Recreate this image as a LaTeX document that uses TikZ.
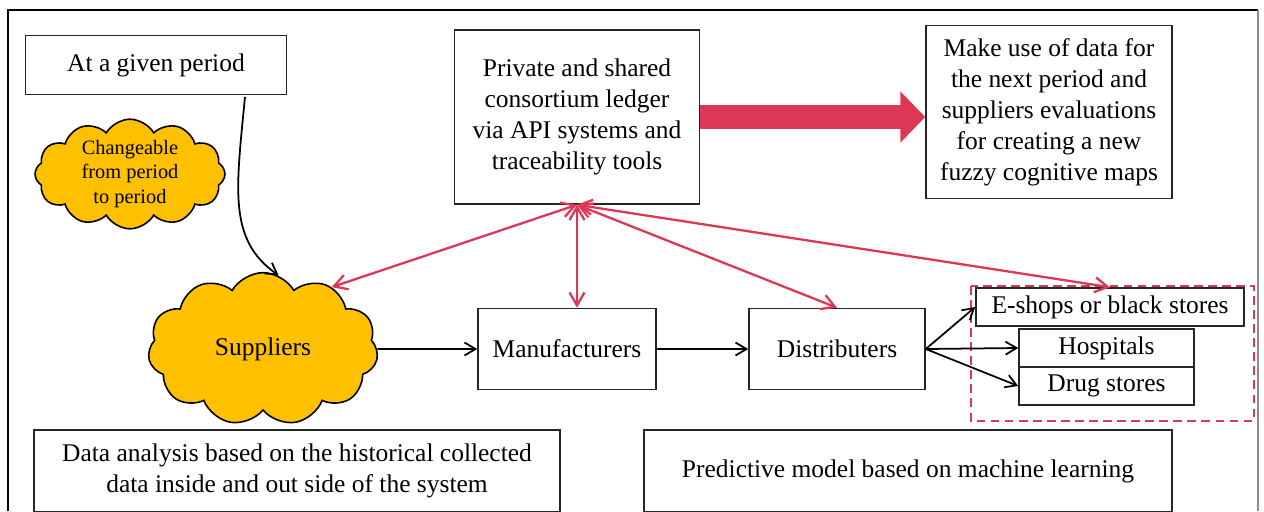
\documentclass[tikz,border=0pt]{standalone}
\usepackage{fontspec}
\setmainfont{Liberation Serif}
\usetikzlibrary{shapes.symbols,arrows.meta}

\definecolor{ledgerred}{RGB}{220,55,85}
\definecolor{cloudgold}{RGB}{255,192,0}

\tikzset{
  box/.style={draw=black!85, line width=0.9pt, align=center, inner sep=0pt, font=\fontsize{14.5}{17.6}\selectfont},
  puff/.style={cloud, cloud puffs=11, cloud puff arc=120, draw, line width=0.9pt, fill=cloudgold, align=center, inner sep=0pt},
  flow/.style={-{Straight Barb[length=2.2mm,width=2.6mm]}, line width=1pt},
  link/.style={{Straight Barb[length=2.6mm,width=3mm]}-{Straight Barb[length=2.6mm,width=3mm]}, draw=ledgerred, line width=1.3pt},
}

\begin{document}
\begin{tikzpicture}[x=0.02cm,y=-0.02cm]
            \useasboundingbox (0,0) rectangle (1264,511);
            % frame
            \draw[line width=1.4pt] (8,511) -- (8,10) -- (1258,10);
            \draw[black!45, line width=0.6pt] (1258,10) -- (1258,511);

            % top row
            \node (given) at (156,65) [box, minimum width=5.22cm, minimum height=1.18cm] {At a given period};
            \node (change) at (130,174) [puff, cloud puffs=12, aspect=1.45, inner sep=-0.5pt, minimum width=3.8cm, minimum height=1.6cm, font=\fontsize{11.6}{13.8}\selectfont] {Changeable\\from period\\to period};
            \node (ledger) at (577,117) [box, minimum width=4.9cm, minimum height=3.48cm] {Private and shared\\consortium ledger\\via API systems and\\traceability tools};
            \node (reuse) at (1049,112) [box, minimum width=4.92cm, minimum height=3.46cm] {Make use of data for\\the next period and\\suppliers evaluations\\for creating a new\\fuzzy cognitive maps};

            % supply chain
            \node (supp) at (263,349) [puff, minimum width=4.6cm, minimum height=2.95cm, font=\fontsize{14.5}{17.6}\selectfont] {Suppliers};
            \node (manu) at (567,349) [box, minimum width=3.56cm, minimum height=1.62cm] {Manufacturers};
            \node (dist) at (837,349) [box, minimum width=3.52cm, minimum height=1.62cm] {Distributers};
            \node (eshop) at (1110,307) [box, minimum width=5.36cm, minimum height=0.76cm] {E-shops or black stores};
            \node (hosp) at (1106.5,348) [box, minimum width=3.5cm, minimum height=0.76cm] {Hospitals};
            \node (drug) at (1106.5,386) [box, minimum width=3.5cm, minimum height=0.76cm] {Drug stores};
            \draw[ledgerred, line width=1pt, dash pattern=on 5pt off 3pt] (971,286) rectangle (1254,421);

            % bottom row
            \node (hist) at (297,471) [box, minimum width=10.52cm, minimum height=1.64cm] {Data analysis based on the historical collected\\data inside and out side of the system};
            \node (pred) at (908,471) [box, minimum width=10.56cm, minimum height=1.64cm] {Predictive model based on machine learning};

            % connectors
            \coordinate (gfoot) at (245,97);
            \draw[flow] (gfoot) .. controls (236,190) and (228,240) .. (supp.78);
            \draw[ledgerred, line width=0.48cm, -{Triangle[length=0.5cm,width=1cm]}] (ledger.east) -- (reuse.west |- ledger.east);

            \draw[link] (ledger.south) -- (supp.42);
            \draw[link] (ledger.south) -- (ledger.south |- manu.north);
            \draw[link] (ledger.south) -- (dist.north);
            \draw[link] (ledger.south) -- (eshop.north);

            \draw[flow] (supp.east) -- (manu.west);
            \draw[flow] (manu.east) -- (dist.west);
            \draw[flow] (dist.east) -- (eshop.west);
            \draw[flow] (dist.east) -- (hosp.west);
            \draw[flow] (dist.east) -- (drug.west);
\end{tikzpicture}
\end{document}
